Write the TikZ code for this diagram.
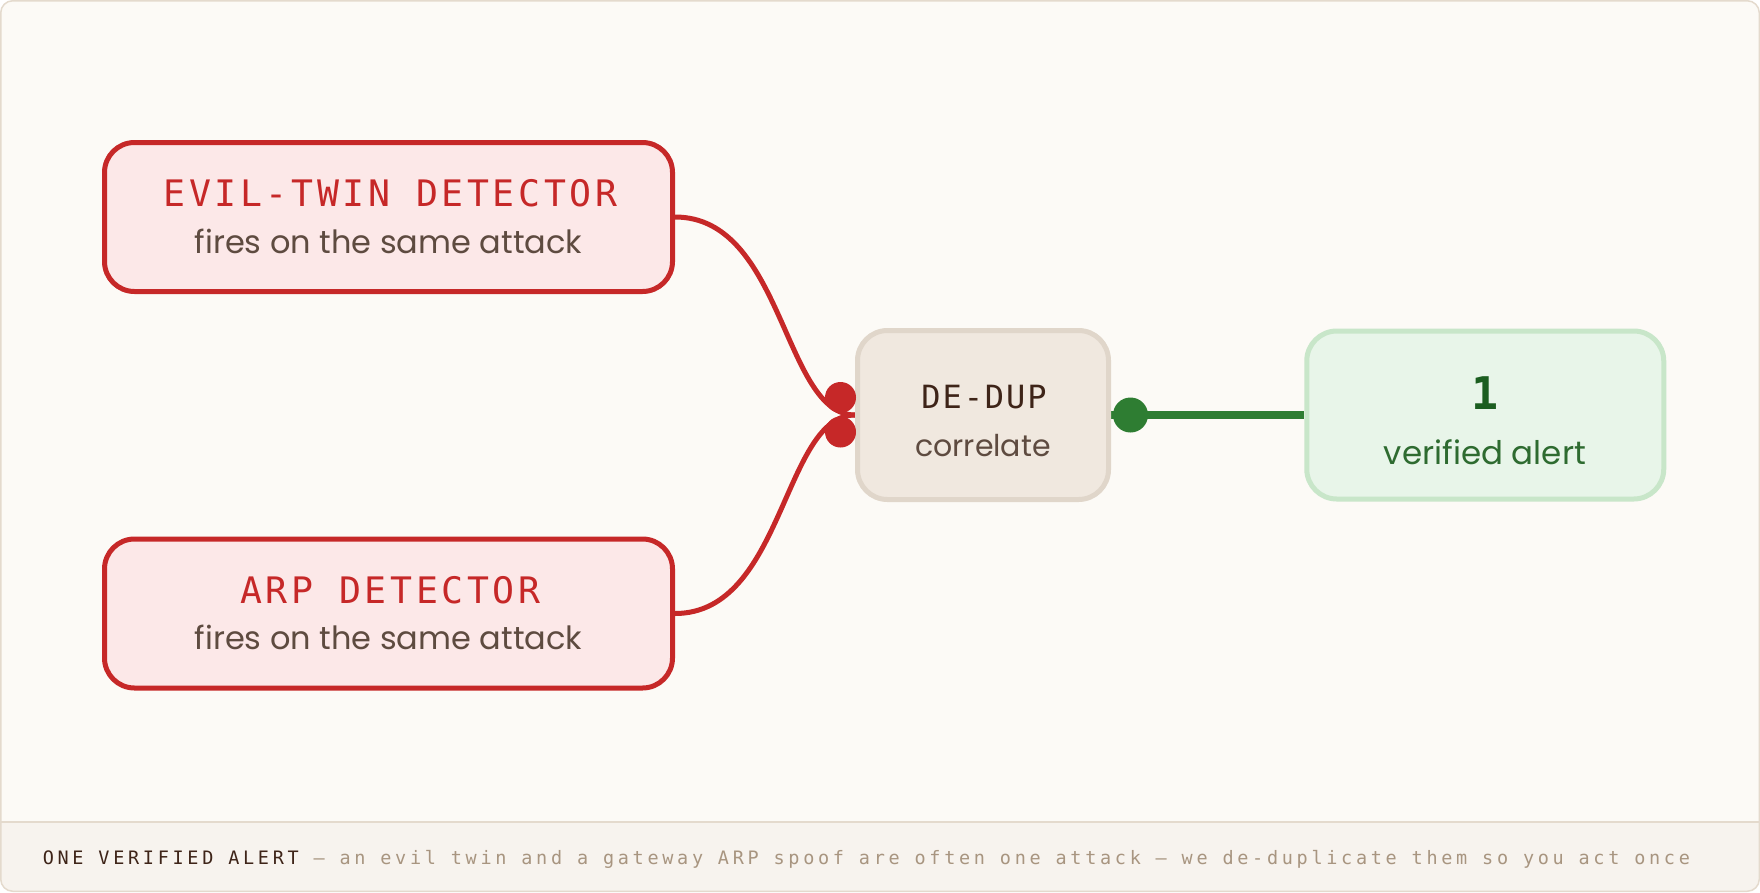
\documentclass[tikz,border=0pt]{standalone}
\usepackage{fontspec}
\setmainfont{Poppins}
\newfontfamily\titlefont{DejaVu Sans Mono}[LetterSpace=10]
\newfontfamily\ddfont{DejaVu Sans Mono}[LetterSpace=6]
\newfontfamily\footfont{DejaVu Sans Mono}[LetterSpace=20]
\newfontfamily\onefont{DejaVu Sans Mono}
\definecolor{cBg}{HTML}{FCFAF6}
\definecolor{cFrame}{HTML}{E4DACD}
\definecolor{cFoot}{HTML}{F7F3EE}
\definecolor{cRed}{HTML}{C62828}
\definecolor{cPink}{HTML}{FCE8E8}
\definecolor{cSub}{HTML}{5E4B40}
\definecolor{cDDfill}{HTML}{F0E8DF}
\definecolor{cDDline}{HTML}{E0D6CA}
\definecolor{cDark}{HTML}{3E2418}
\definecolor{cGfill}{HTML}{E8F5E9}
\definecolor{cGline}{HTML}{C8E6C9}
\definecolor{cGone}{HTML}{1B5E20}
\definecolor{cGtext}{HTML}{2E6B30}
\definecolor{cGstroke}{HTML}{2E7D32}
\definecolor{cFootText}{HTML}{A89580}
\pgfdeclarelayer{bglayer}
\pgfdeclarelayer{connlayer}
\pgfsetlayers{bglayer,connlayer,main}
\begin{document}
\begin{tikzpicture}[x=1pt,y=-1pt,
  detbox/.style={draw=cRed, fill=cPink, line width=5pt, rounded corners=30pt,
    minimum width=568pt, minimum height=149pt, inner sep=0pt},
  ddbox/.style={draw=cDDline, fill=cDDfill, line width=5pt, rounded corners=30pt,
    minimum width=251pt, minimum height=169pt, inner sep=0pt},
  okbox/.style={draw=cGline, fill=cGfill, line width=5pt, rounded corners=30pt,
    minimum width=357pt, minimum height=168pt, inner sep=0pt},
  dettitle/.style={anchor=base, text=cRed, inner sep=0pt,
    font=\titlefont\fontsize{36.5}{36.5}\selectfont},
  subtext/.style={anchor=base, text=cSub, inner sep=0pt,
    font=\fontsize{32}{32}\selectfont},
  ddsub/.style={anchor=base, text=cSub, inner sep=0pt,
    font=\fontsize{30}{30}\selectfont},
  ddtitle/.style={anchor=base, text=cDark, inner sep=0pt,
    font=\ddfont\fontsize{32}{32}\selectfont},
  onetitle/.style={anchor=base, text=cGone, inner sep=0pt,
    font=\onefont\bfseries\fontsize{45}{45}\selectfont},
  oktext/.style={anchor=base, text=cGtext, inner sep=0pt,
    font=\fontsize{32.5}{32.5}\selectfont},
  redline/.style={draw=cRed, line width=5pt},
  greenline/.style={draw=cGstroke, line width=7.5pt},
  reddot/.style={circle, fill=cRed, minimum size=31pt, inner sep=0pt},
  greendot/.style={circle, fill=cGstroke, minimum size=35pt, inner sep=0pt},
  foottext/.style={anchor=base west, inner sep=0pt, text=cFootText,
    font=\footfont\fontsize{18.5}{18.5}\selectfont}
]
\useasboundingbox (0,0) rectangle (1760,892);

\begin{pgfonlayer}{bglayer}
  \fill[cBg, rounded corners=12pt] (0.75,0.75) rectangle (1759.25,891.25);
  \fill[cFoot, rounded corners=12pt] (0.75,821) rectangle (1759.25,891.25);
  \fill[cFoot] (0.75,821) rectangle (1759.25,840);
  \draw[cFrame, line width=2pt] (0.75,821.5) -- (1759.25,821.5);
  \draw[cFrame, line width=1.5pt, rounded corners=12pt] (0.75,0.75) rectangle (1759.25,891.25);
\end{pgfonlayer}

% boxes
\node[detbox] (et) at (388.5,217) {};
\node[detbox] (arp) at (388.5,613.5) {};
\node[ddbox] (dd) at (983,415) {};
\node[okbox] (ok) at (1485.25,415) {};

% texts
\node[dettitle] (ett) at (390.5,206.7) {EVIL-TWIN DETECTOR};
\node[subtext] (ets) at (388.5,253.3) {fires on the same attack};
\node[dettitle] (arpt) at (390.5,603.2) {ARP DETECTOR};
\node[subtext] (arps) at (388.5,649.8) {fires on the same attack};
\node[ddtitle] (ddt) at (984,408.3) {DE-DUP};
\node[ddsub] (dds) at (983,456.7) {correlate};
\node[onetitle] (okt) at (1485,409) {1};
\node[oktext] (oks) at (1485,464) {verified alert};

% connectors
\begin{pgfonlayer}{connlayer}
  \draw[redline] (et.east) .. controls +(109,0) and +(-72,0) .. (dd.west);
  \draw[redline] (arp.east) .. controls +(109,0) and +(-72,0) .. (dd.west);
  \draw[greenline] (dd.east) -- (ok.west);
\end{pgfonlayer}
\node[reddot] (rd1) at (840.5,397.5) {};
\node[reddot] (rd2) at (840.5,432) {};
\node[greendot] (gd) at (1130.5,415) {};

% footer
\node[foottext] (foot) at (42.6,864) {{\color{cDark}ONE VERIFIED ALERT} — an evil twin and a gateway ARP spoof are often one attack — we de-duplicate them so you act once};
\end{tikzpicture}
\end{document}
